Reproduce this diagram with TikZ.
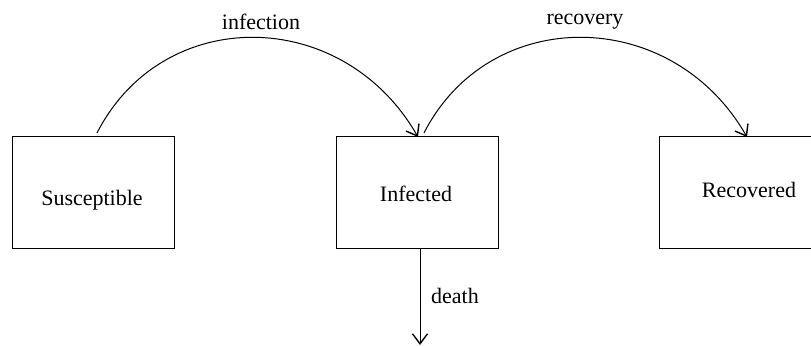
\documentclass[tikz,border=0pt]{standalone}
\usepackage{fontspec}
\setmainfont{Liberation Serif}
\usetikzlibrary{arrows.meta}
\begin{document}
\begin{tikzpicture}[x=0.5pt,y=-0.5pt,
  box/.style={draw, line width=0.5pt, minimum width=81pt, minimum height=56pt, inner sep=0pt},
  lbl/.style={font=\fontsize{11pt}{13pt}\selectfont, inner sep=0pt},
  flow/.style={line width=0.5pt, -{Straight Barb[length=5pt,width=7.5pt,line width=0.7pt]}}]
\useasboundingbox (0,0) rectangle (811,346);
\clip (0,0) rectangle (811,346);
\node[box] (S) at (93,193) {};
\node[box] (I) at (417,193) {};
\node[box] (R) at (740,193) {};
\node[lbl] (St) at (92,200) {Susceptible};
\node[lbl] (It) at (416,194) {Infected};
\node[lbl] (Rt) at (749,190) {Recovered};
\coordinate (s1) at (97,133);
\coordinate (i1) at (418,137);
\coordinate (i2) at (424,133);
\coordinate (r1) at (747,137);
\coordinate (i3) at (420,249);
\coordinate (d) at (420,345);
\draw[flow] (s1) .. controls (163,4) and (343,6) .. (i1);
\draw[flow] (i2) .. controls (490,4) and (672,6) .. (r1);
\draw[flow] (i3) -- (d);
\node[lbl] (li) at (261,22) {infection};
\node[lbl] (lr) at (585,22) {recovery};
\node[lbl] (ld) at (455,296) {death};
\end{tikzpicture}
\end{document}
